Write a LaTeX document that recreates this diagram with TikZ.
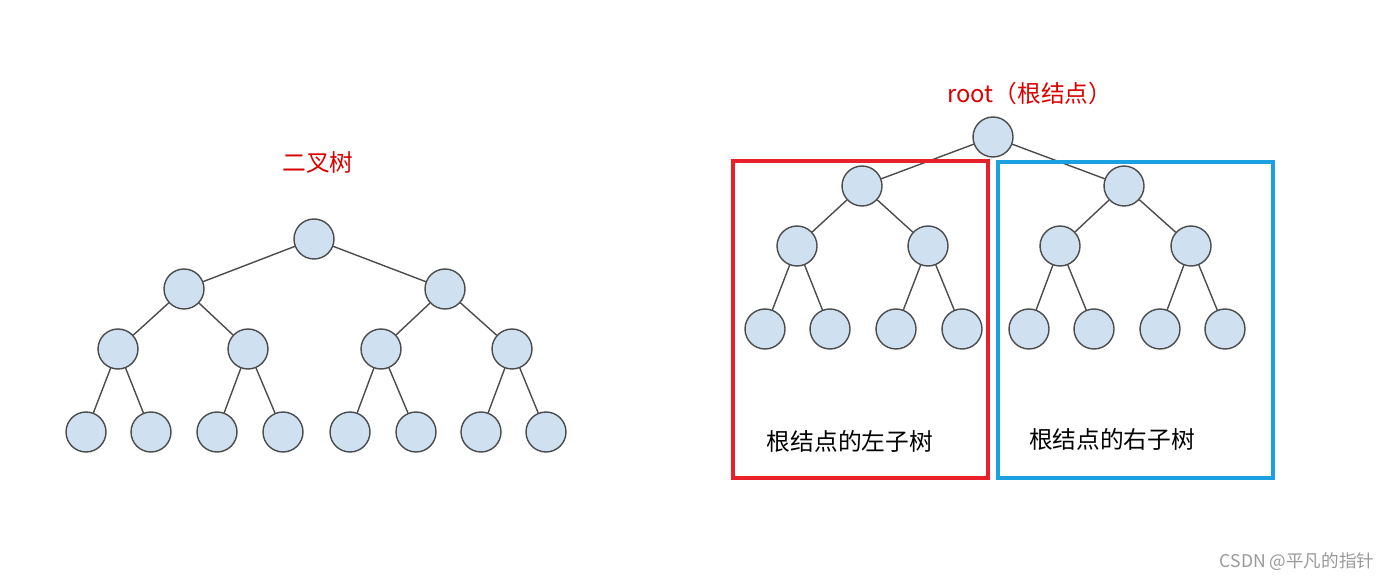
\documentclass[tikz,border=0pt]{standalone}
\usepackage{fontspec}
\setmainfont{Noto Sans CJK SC}
\begin{document}
\begin{tikzpicture}
	[x=0.02cm,y=-0.02cm,line cap=round,
	%Styles
	treenode/.style={circle,draw=black!70,fill=nodeblue,thick,minimum size=0.8cm,inner sep=0pt},
	edge/.style={draw=black!70,thick},
	title text/.style={text=red!85!black,font=\fontsize{13.5}{16}\selectfont},
	box text/.style={font=\fontsize{13.5}{16}\selectfont}
	]
	
	%Colors
	\definecolor{nodeblue}{HTML}{CFE0F1}
	\definecolor{boxred}{HTML}{E8202A}
	\definecolor{boxblue}{HTML}{1BA1E2}
	
	\useasboundingbox (0,0) rectangle (1398,580);
	
	%Left tree
	\node[title text] (title) at (318,162) {二叉树};
	\node[treenode] (a) at (314,239) {};
	\node[treenode] (al) at (184,289) {};
	\node[treenode] (ar) at (445,289) {};
	\node[treenode] (all) at (118,349) {};
	\node[treenode] (alr) at (248,349) {};
	\node[treenode] (arl) at (381,349) {};
	\node[treenode] (arr) at (512,349) {};
	\foreach \x [count=\i] in {86,151,217,283,350,416,481,546}
		\node[treenode] (aleaf\i) at (\x,432) {};
	\draw[edge] (a) -- (al) (a) -- (ar);
	\draw[edge] (al) -- (all) (al) -- (alr) (ar) -- (arl) (ar) -- (arr);
	\draw[edge] (all) -- (aleaf1) (all) -- (aleaf2) (alr) -- (aleaf3) (alr) -- (aleaf4);
	\draw[edge] (arl) -- (aleaf5) (arl) -- (aleaf6) (arr) -- (aleaf7) (arr) -- (aleaf8);
	
	%Right tree
	\node[title text] (root) at (1030,93) {root（根结点）};
	\node[treenode] (b) at (993,137) {};
	\node[treenode] (bl) at (862,186) {};
	\node[treenode] (br) at (1124,186) {};
	\node[treenode] (bll) at (797,246) {};
	\node[treenode] (blr) at (928,246) {};
	\node[treenode] (brl) at (1060,246) {};
	\node[treenode] (brr) at (1191,246) {};
	\foreach \x [count=\i] in {765,830,896,962,1029,1094,1160,1225}
		\node[treenode] (bleaf\i) at (\x,329) {};
	\draw[edge] (b) -- (bl) (b) -- (br);
	\draw[edge] (bl) -- (bll) (bl) -- (blr) (br) -- (brl) (br) -- (brr);
	\draw[edge] (bll) -- (bleaf1) (bll) -- (bleaf2) (blr) -- (bleaf3) (blr) -- (bleaf4);
	\draw[edge] (brl) -- (bleaf5) (brl) -- (bleaf6) (brr) -- (bleaf7) (brr) -- (bleaf8);
	
	%Subtree boxes
	\draw[boxred,line width=2pt,line cap=butt] (733,161) rectangle (988,478);
	\draw[boxblue,line width=2pt,line cap=butt] (998,162) rectangle (1273,478);
	\node[box text] (lefttext) at (850,441) {根结点的左子树};
	\node[box text] (righttext) at (1112,439) {根结点的右子树};
	
	\node[text=black!40] (mark) at (1297,562) {CSDN @平凡的指针};
\end{tikzpicture}
\end{document}
